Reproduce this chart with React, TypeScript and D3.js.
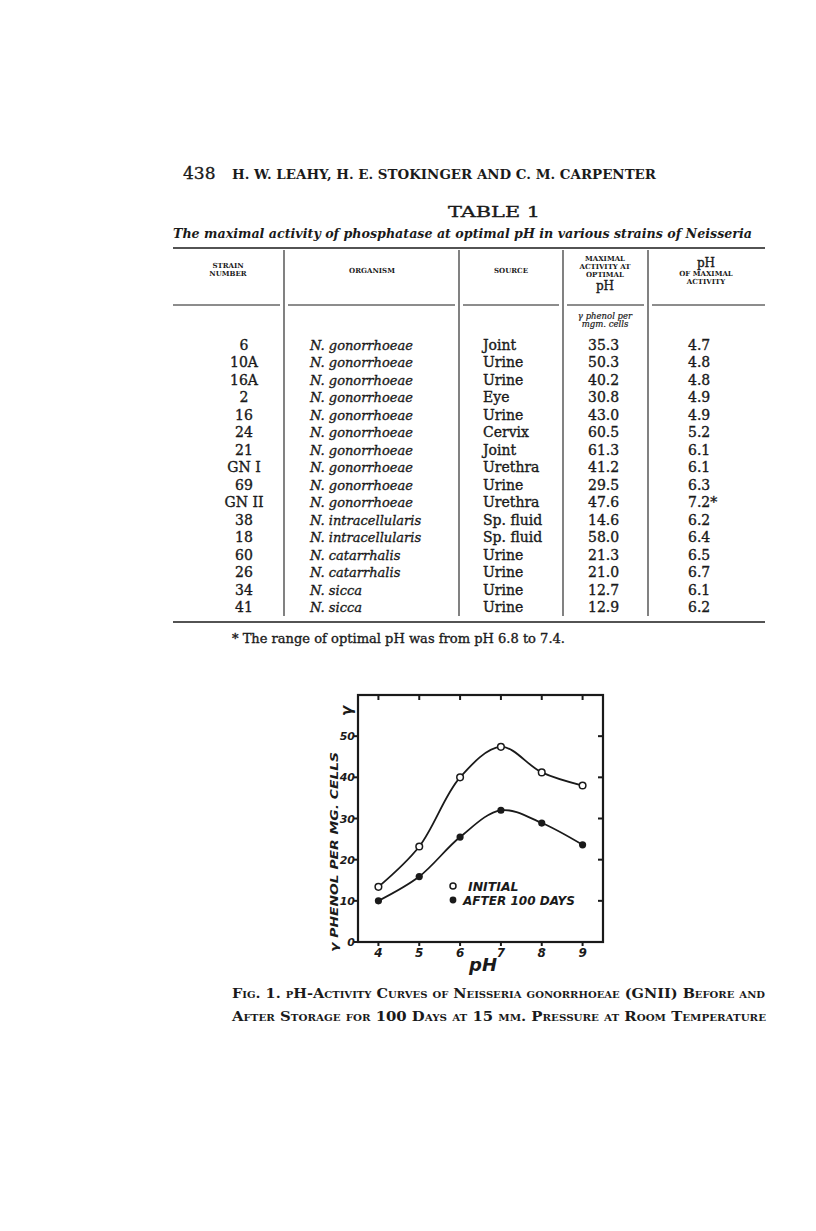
import React from "react";
import * as d3 from "d3";

// ---------- table data ----------
const strainNumbers = ["6", "10A", "16A", "2", "16", "24", "21", "GN I", "69", "GN II", "38", "18", "60", "26", "34", "41"];
const organisms = [
  "N. gonorrhoeae", "N. gonorrhoeae", "N. gonorrhoeae", "N. gonorrhoeae", "N. gonorrhoeae",
  "N. gonorrhoeae", "N. gonorrhoeae", "N. gonorrhoeae", "N. gonorrhoeae", "N. gonorrhoeae",
  "N. intracellularis", "N. intracellularis", "N. catarrhalis", "N. catarrhalis", "N. sicca", "N. sicca",
];
const sources = ["Joint", "Urine", "Urine", "Eye", "Urine", "Cervix", "Joint", "Urethra", "Urine", "Urethra", "Sp. fluid", "Sp. fluid", "Urine", "Urine", "Urine", "Urine"];
const maxActivity = ["35.3", "50.3", "40.2", "30.8", "43.0", "60.5", "61.3", "41.2", "29.5", "47.6", "14.6", "58.0", "21.3", "21.0", "12.7", "12.9"];
const phOfMax = ["4.7", "4.8", "4.8", "4.9", "4.9", "5.2", "6.1", "6.1", "6.3", "7.2*", "6.2", "6.4", "6.5", "6.7", "6.1", "6.2"];

// ---------- figure data ----------
const phValues = [4, 5, 6, 7, 8, 9];
const initialActivity = [13.4, 23.2, 40.0, 47.4, 41.2, 38.0];
const after100Days = [10.0, 15.9, 25.5, 32.0, 28.9, 23.6];
const yTicks = [0, 10, 20, 30, 40, 50];
const xTicks = [4, 5, 6, 7, 8, 9];

const SERIF = "'DejaVu Serif', serif";
const SANS = "'DejaVu Sans', sans-serif";

export default function App() {
  const W = 816, H = 1231;
  const ink = "#1a1a1a";

  // table layout
  const tLeft = 173, tRight = 765;
  const colEdges = [tLeft, 284, 459, 563, 648, tRight];
  const rowY = d3.scalePoint<number>().domain(d3.range(strainNumbers.length)).range([350, 612]);

  // chart scales
  const x = d3.scaleLinear().domain([3.5, 9.5]).range([358, 603]);
  const y = d3.scaleLinear().domain([0, 60]).range([942, 695]);
  const line = d3.line<number>()
    .x((_, i) => x(phValues[i]))
    .y((d) => y(d))
    .curve(d3.curveCatmullRom.alpha(0.5));

  const hdr = { fontFamily: SERIF, fontWeight: 700, fontSize: 7, fill: ink, textAnchor: "middle" as const };
  const bold = { stroke: ink, strokeWidth: 0.35 };

  return (
    <svg width={W} height={H} style={{ position: "absolute", left: 0, top: 0, background: "#fff" }}>
      <rect width={W} height={H} fill="#fff" />
      {/* running head */}
      <text x={183} y={179} fontFamily={SERIF} fontSize={17} fill={ink} {...bold}>438</text>
      <text x={232} y={179} fontFamily={SERIF} fontWeight={700} fontSize={12} fill={ink}
        textLength={424} lengthAdjust="spacingAndGlyphs">H. W. LEAHY, H. E. STOKINGER AND C. M. CARPENTER</text>

      <text x={494} y={217} fontFamily={SERIF} fontSize={15} fill={ink} textAnchor="middle" {...bold}
        textLength={92} lengthAdjust="spacingAndGlyphs">TABLE 1</text>
      <text x={173} y={238} fontFamily={SERIF} fontStyle="italic" fontWeight={700} fontSize={13} fill={ink}
        textLength={579} lengthAdjust="spacingAndGlyphs">The maximal activity of phosphatase at optimal pH in various strains of Neisseria</text>

      {/* table rules */}
      <line x1={tLeft} x2={tRight} y1={248} y2={248} stroke={ink} strokeWidth={1.4} />
      <line x1={tLeft} x2={tRight} y1={622} y2={622} stroke={ink} strokeWidth={1.4} />
      {colEdges.slice(1, -1).map((cx) => (
        <line key={cx} x1={cx} x2={cx} y1={250} y2={616} stroke={ink} strokeWidth={1.1} />
      ))}
      {colEdges.slice(0, -1).map((cx, i) => (
        <line key={"h" + cx} x1={i === 0 ? cx : cx + 4} x2={i === colEdges.length - 2 ? colEdges[i + 1] : colEdges[i + 1] - 4}
          y1={305} y2={305} stroke={ink} strokeWidth={1} />
      ))}

      {/* header texts */}
      <text x={228} y={268} {...hdr}>STRAIN</text>
      <text x={228} y={276} {...hdr}>NUMBER</text>
      <text x={372} y={273} {...hdr}>ORGANISM</text>
      <text x={511} y={273} {...hdr}>SOURCE</text>
      <text x={605} y={261} {...hdr}>MAXIMAL</text>
      <text x={605} y={269} {...hdr}>ACTIVITY AT</text>
      <text x={605} y={277} {...hdr}>OPTIMAL</text>
      <text x={605} y={290} fontFamily={SERIF} fontSize={12} fill={ink} textAnchor="middle" {...bold}>pH</text>
      <text x={706} y={267} fontFamily={SERIF} fontSize={12} fill={ink} textAnchor="middle" {...bold}>pH</text>
      <text x={706} y={276} {...hdr}>OF MAXIMAL</text>
      <text x={706} y={284} {...hdr}>ACTIVITY</text>
      <text x={605} y={319} fontFamily={SERIF} fontStyle="italic" fontSize={8.5} fill={ink} textAnchor="middle" {...bold} strokeWidth={0.2}>γ phenol per</text>
      <text x={605} y={327} fontFamily={SERIF} fontStyle="italic" fontSize={8.5} fill={ink} textAnchor="middle" {...bold} strokeWidth={0.2}>mgm. cells</text>

      {/* table body */}
      {strainNumbers.map((s, i) => {
        const by = rowY(i)!;
        return (
          <g key={i} fontFamily={SERIF} fontSize={14} fill={ink} stroke={ink} strokeWidth={0.35}>
            <text x={244} y={by} textAnchor="middle">{s}</text>
            <text x={310} y={by} fontStyle="italic" fontSize={13}>{organisms[i]}</text>
            <text x={483} y={by}>{sources[i]}</text>
            <text x={588} y={by}>{maxActivity[i]}</text>
            <text x={688} y={by}>{phOfMax[i]}</text>
          </g>
        );
      })}

      <text x={232} y={643} fontFamily={SERIF} fontSize={13} fill={ink} {...bold}
        textLength={333} lengthAdjust="spacingAndGlyphs">* The range of optimal pH was from pH 6.8 to 7.4.</text>

      {/* ---------- figure ---------- */}
      <rect x={x(3.5)} y={y(60)} width={x(9.5) - x(3.5)} height={y(0) - y(60)} fill="none" stroke={ink} strokeWidth={2.2} />
      {xTicks.map((t) => (
        <g key={"xt" + t}>
          <line x1={x(t)} x2={x(t)} y1={y(60)} y2={y(60) + 5} stroke={ink} strokeWidth={2} />
          <line x1={x(t)} x2={x(t)} y1={y(0)} y2={y(0) + 4} stroke={ink} strokeWidth={2} />
          <text x={x(t)} y={y(0) + 15} fontFamily={SANS} fontStyle="italic" fontWeight={700} fontSize={12}
            fill={ink} textAnchor="middle">{t}</text>
        </g>
      ))}
      {yTicks.map((t) => (
        <g key={"yt" + t}>
          <line x1={x(3.5) - 4} x2={x(3.5)} y1={y(t)} y2={y(t)} stroke={ink} strokeWidth={2} />
          {t > 0 && <line x1={x(9.5) - 5} x2={x(9.5)} y1={y(t)} y2={y(t)} stroke={ink} strokeWidth={2} />}
          <text x={x(3.5) - 3} y={y(t) + 4} fontFamily={SANS} fontStyle="italic" fontWeight={700} fontSize={11}
            fill={ink} textAnchor="end">{t}</text>
        </g>
      ))}
      <text transform={`translate(352,711) rotate(-90)`} fontFamily={SANS} fontStyle="italic" fontWeight={700}
        fontSize={15} fill={ink} textAnchor="middle">γ</text>
      <text transform={`translate(338,852) rotate(-90)`} fontFamily={SANS} fontStyle="italic" fontWeight={700}
        fontSize={11} fill={ink} textAnchor="middle" textLength={200} lengthAdjust="spacingAndGlyphs">γ PHENOL PER MG. CELLS</text>
      <text x={497} y={971} fontFamily={SANS} fontStyle="italic" fontWeight={700} fontSize={18} fill={ink}
        textAnchor="end">pH</text>

      <path d={line(initialActivity) || ""} fill="none" stroke={ink} strokeWidth={1.8} />
      <path d={line(after100Days) || ""} fill="none" stroke={ink} strokeWidth={1.8} />
      {initialActivity.map((v, i) => (
        <circle key={"o" + i} cx={x(phValues[i])} cy={y(v)} r={3.3} fill="#fff" stroke={ink} strokeWidth={1.5} />
      ))}
      {after100Days.map((v, i) => (
        <circle key={"f" + i} cx={x(phValues[i])} cy={y(v)} r={3.6} fill={ink} />
      ))}

      {/* legend */}
      <circle cx={453} cy={886} r={3} fill="#fff" stroke={ink} strokeWidth={1.5} />
      <text x={468} y={891} fontFamily={SANS} fontStyle="italic" fontWeight={700} fontSize={12.5} fill={ink}>INITIAL</text>
      <circle cx={453} cy={900} r={3.4} fill={ink} />
      <text x={463} y={905} fontFamily={SANS} fontStyle="italic" fontWeight={700} fontSize={12.5} fill={ink}
        textLength={112} lengthAdjust="spacingAndGlyphs">AFTER 100 DAYS</text>

      {/* caption */}
      <text x={232} y={998} fontFamily={SERIF} fontWeight={700} fontSize={13} fill={ink}
        style={{ fontVariant: "small-caps" }} textLength={533} lengthAdjust="spacingAndGlyphs">
        Fig. 1. pH-Activity Curves of Neisseria gonorrhoeae (GNII) Before and
      </text>
      <text x={232} y={1021} fontFamily={SERIF} fontWeight={700} fontSize={13} fill={ink}
        style={{ fontVariant: "small-caps" }} textLength={534} lengthAdjust="spacingAndGlyphs">
        After Storage for 100 Days at 15 mm. Pressure at Room Temperature
      </text>
    </svg>
  );
}
